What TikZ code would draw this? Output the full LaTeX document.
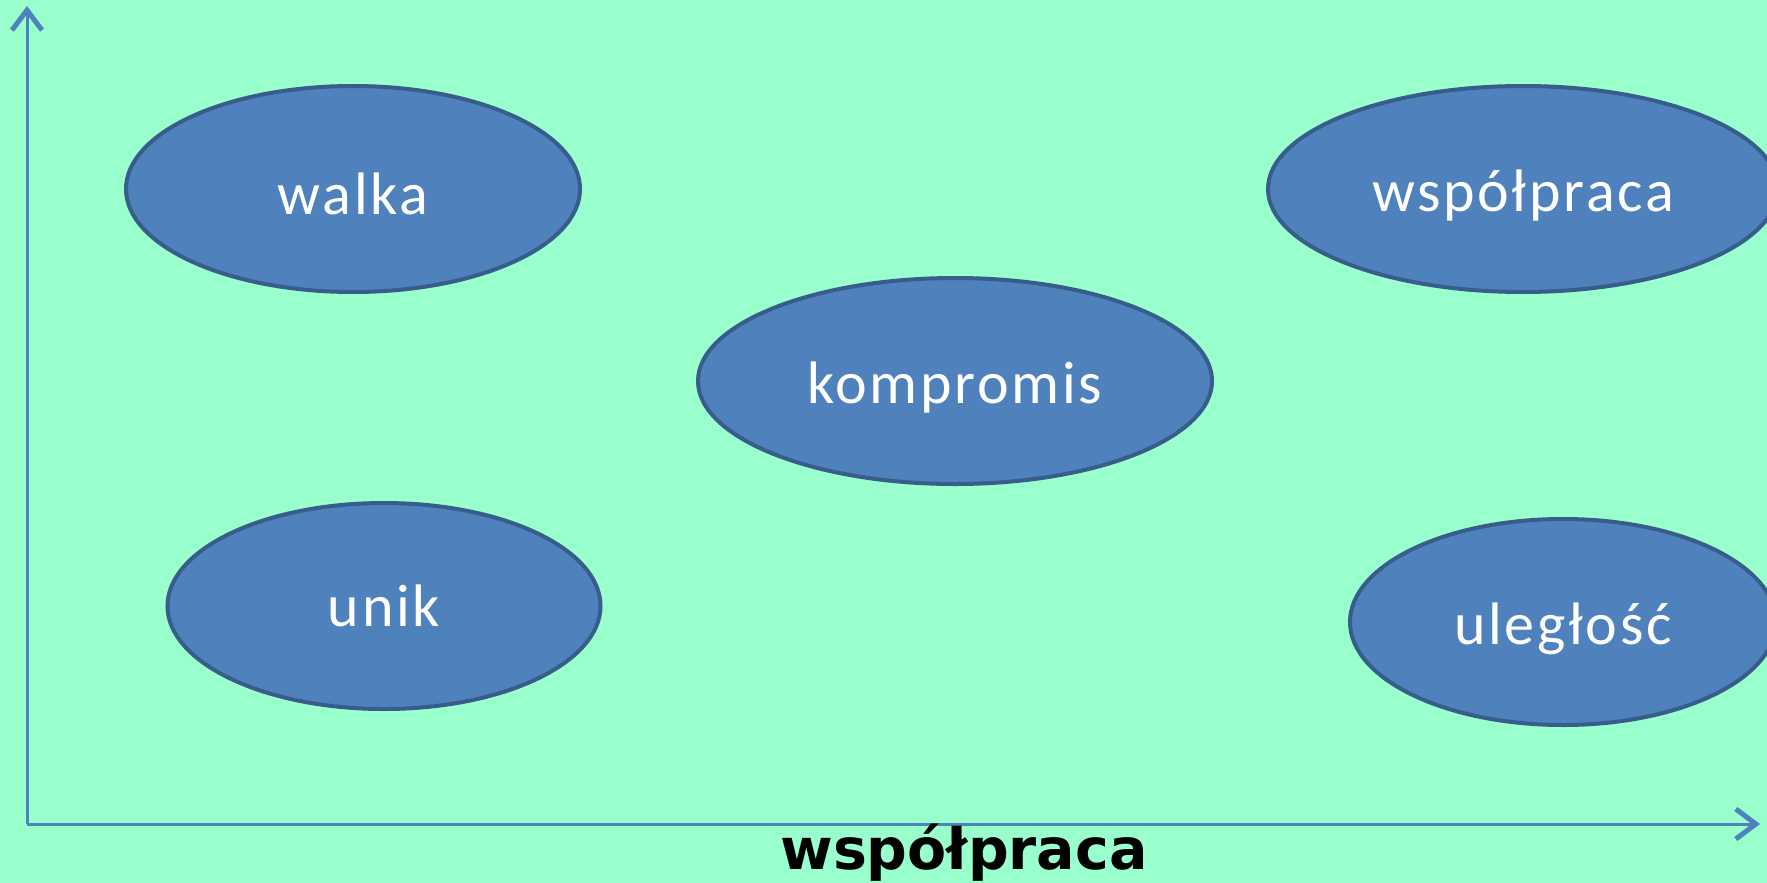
\documentclass[tikz,border=0pt]{standalone}
\usepackage{fontspec}
\setmainfont{Carlito}
\newfontfamily\labelfont{DejaVu Sans}
\usetikzlibrary{shapes.geometric,arrows.meta}
\definecolor{bgmint}{RGB}{153,255,204}
\definecolor{ellfill}{RGB}{79,129,189}
\definecolor{ellborder}{RGB}{56,93,138}
\definecolor{axiscol}{RGB}{79,129,189}
\tikzset{
  oval/.style={ellipse, draw=ellborder, line width=4pt, fill=ellfill, inner sep=0pt,
    minimum height=206pt},
  ovaltext/.style={text=white, inner sep=0pt,
    font=\fontsize{60}{70}\selectfont\addfontfeature{LetterSpace=4.5}},
  axis/.style={draw=axiscol, line width=3pt, -{Straight Barb[length=20pt,width=30pt,line width=5pt]}},
}
\begin{document}
\begin{tikzpicture}[x=1pt,y=-1pt]
\fill[bgmint] (0,0) rectangle (1767,883);
\useasboundingbox (0,0) rectangle (1767,883);
\coordinate (o) at (27,824);
\coordinate (ytip) at (27,6);
\coordinate (xtip) at (1760,824);
\draw[axis] (o) -- (ytip);
\draw[axis] (o) -- (xtip);
\node[oval, minimum width=454pt] (walka) at (353,189) {};
\node[oval, minimum width=510pt] (wsp) at (1523,189) {};
\node[oval, minimum width=514pt] (komp) at (955,381) {};
\node[oval, minimum width=433pt] (unik) at (384,606) {};
\node[oval, minimum width=426pt] (ul) at (1563,622) {};
\node[ovaltext] (walkat) at ([yshift=-5pt]walka.center) {walka};
\node[ovaltext] (wspt) at ([yshift=-7pt]wsp.center) {współpraca};
\node[ovaltext] (kompt) at ([yshift=-7pt]komp.center) {kompromis};
\node[ovaltext] (unikt) at (unik.center) {unik};
\node[ovaltext] (ult) at ([yshift=-7pt]ul.center) {uległość};
\node[font=\labelfont\bfseries\fontsize{57}{60}\selectfont, text=black, inner sep=0pt] (xl) at (964,853) {współpraca};
\end{tikzpicture}
\end{document}
